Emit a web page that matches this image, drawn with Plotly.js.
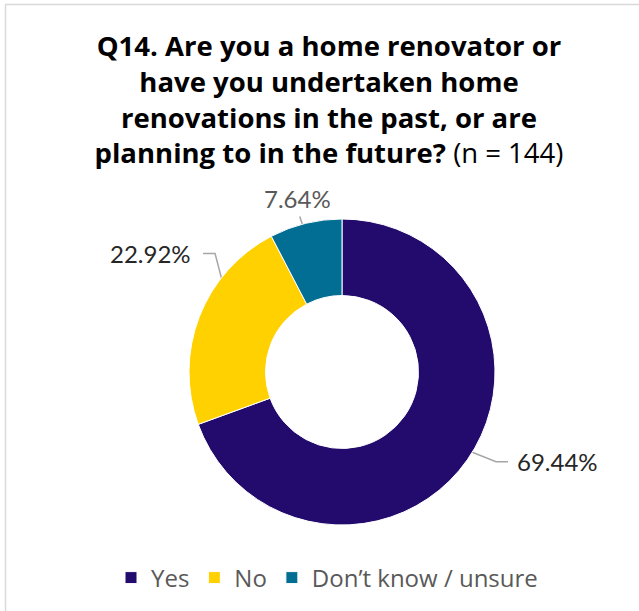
<!DOCTYPE html>
<html>
<head>
<meta charset="utf-8">
<script src="https://cdn.plot.ly/plotly-3.0.1.min.js"></script>
<style>html,body{margin:0;padding:0;background:#fff;}#chart{width:639px;height:611px;}</style>
</head>
<body>
<div id="chart"></div>
<script>
// ---- data ----
const categories = ["Yes", "No", "Don\u2019t know / unsure"];
const values = [69.44, 22.92, 7.64];
const valueLabels = ["69.44%", "22.92%", "7.64%"];
const colors = ["#220B6C", "#FFD100", "#036E94"];

// ---- geometry / style ----
const W = 639, H = 611;
const cx = 342, cy = 372, R = 153;
const FONT = "Lato, 'Open Sans', sans-serif";
const TFONT = "'Open Sans', Lato, sans-serif";
// leader offsets relative to the start point on the slice (px)
const leader = [
  {pts: [[60, 24], [72, 24]], color: "#262626"},
  {pts: [[-20, -77], [-32, -77]], color: "#262626"},
  {pts: [[-15, -44]], color: "#595959"}
];

const total = values.reduce((a, b) => a + b, 0);
let cum = 0;
const lineX = [], lineY = [];
const annotations = [];
values.forEach((v, i) => {
  const mid = (cum + v / 2) / total * 2 * Math.PI;
  cum += v;
  const sx = cx + 0.75 * R * Math.sin(mid);
  const sy = cy - 0.75 * R * Math.cos(mid);
  lineX.push(sx); lineY.push(sy);
  leader[i].pts.forEach(p => { lineX.push(sx + p[0]); lineY.push(sy + p[1]); });
  lineX.push(null); lineY.push(null);
  const last = leader[i].pts[leader[i].pts.length - 1];
  let tx, ty, xanchor;
  if (i === 0) { tx = sx + last[0] + 7; ty = sy + last[1]; xanchor = "left"; }
  else if (i === 1) { tx = sx + last[0] - 10; ty = sy + last[1]; xanchor = "right"; }
  else { tx = sx + last[0] - 2; ty = sy + last[1] - 18; xanchor = "center"; }
  annotations.push({
    x: tx, y: ty, xref: "x", yref: "y", text: valueLabels[i], showarrow: false,
    xanchor: xanchor, yanchor: "middle",
    font: {family: FONT, size: 24, color: leader[i].color}
  });
});

const pie = {
  type: "pie",
  labels: categories,
  values: values,
  marker: {colors: colors, line: {color: "#ffffff", width: 1}},
  hole: 0.5,
  sort: false,
  direction: "clockwise",
  rotation: 0,
  textinfo: "none",
  hoverinfo: "label+percent",
  domain: {x: [(cx - R) / W, (cx + R) / W], y: [(H - cy - R) / H, (H - cy + R) / H]}
};

const leaders = {
  type: "scatter", mode: "lines", x: lineX, y: lineY,
  line: {color: "#A6A6A6", width: 1.5}, hoverinfo: "skip", showlegend: false
};

const layout = {
  width: W, height: H,
  margin: {l: 0, r: 0, t: 0, b: 0},
  paper_bgcolor: "#ffffff", plot_bgcolor: "rgba(0,0,0,0)",
  font: {family: FONT},
  title: {
    text: "<b>Q14. Are you a home renovator or<br>have you undertaken home<br>renovations in the past, or are<br>planning to in the future?</b> (n = 144)",
    font: {family: TFONT, size: 27.5, color: "#000000"},
    x: 329 / W, xanchor: "center", xref: "container",
    y: 1 - 56 / H, yanchor: "top", yref: "container"
  },
  xaxis: {range: [0, W], visible: false, fixedrange: true},
  yaxis: {range: [H, 0], visible: false, fixedrange: true},
  showlegend: true,
  legend: {
    orientation: "h", x: 327 / W, xanchor: "center", y: (H - 578) / H, yanchor: "middle",
    font: {family: TFONT, size: 24, color: "#595959"}, traceorder: "normal"
  },
  annotations: annotations,
  shapes: [{type: "rect", xref: "x", yref: "y", x0: 5.5, y0: 4.5, x1: W + 10, y1: H + 10,
            line: {color: "#D9D9D9", width: 1.5}, fillcolor: "rgba(0,0,0,0)", layer: "below"}]
};

Plotly.newPlot("chart", [pie, leaders], layout, {displayModeBar: false, staticPlot: true});
</script>
</body>
</html>
